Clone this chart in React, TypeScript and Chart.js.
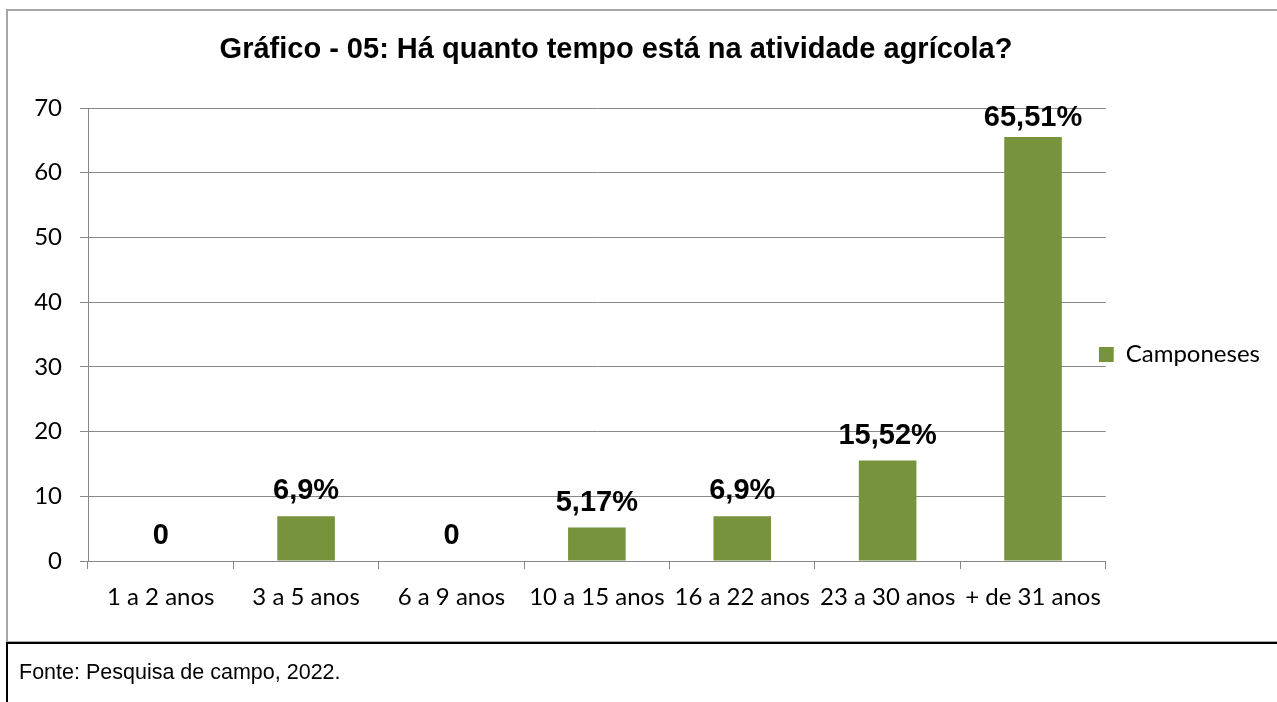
import React, { useEffect, useRef } from "react";
import { Chart, registerables } from "chart.js";

Chart.register(...registerables);

const chartTitle = "Gráfico - 05: Há quanto tempo está na atividade agrícola?";
const categories = [
  "1 a 2 anos",
  "3 a 5 anos",
  "6 a 9 anos",
  "10 a 15 anos",
  "16 a 22 anos",
  "23 a 30 anos",
  "+ de 31 anos",
];
const seriesName = "Camponeses";
const seriesValues = [0, 6.9, 0, 5.17, 6.9, 15.52, 65.51];
const valueLabels = ["0", "6,9%", "0", "5,17%", "6,9%", "15,52%", "65,51%"];
const yTicksMin = 0;
const yTicksMax = 70;
const yTicksStep = 10;
const sourceNote = "Fonte: Pesquisa de campo, 2022.";

const BAR_COLOR = "#77933C";
const GRID_COLOR = "#888888";
const CAL_FONT = "Lato, 'Open Sans', sans-serif";
const ARIAL = "'Liberation Sans', Arial, sans-serif";

const CANVAS_W = 1269;
const CANVAS_H = 687;

const valueLabelPlugin = {
  id: "valueLabels",
  afterDatasetsDraw(chart: any) {
    const { ctx, chartArea } = chart;
    const meta = chart.getDatasetMeta(0);
    ctx.save();
    ctx.font = `bold 29px ${ARIAL}`;
    ctx.fillStyle = "#000";
    ctx.textAlign = "center";
    ctx.textBaseline = "alphabetic";
    meta.data.forEach((bar: any, i: number) => {
      let y = bar.y - 17;
      const capH = 21;
      if (y - capH < chartArea.top - 3) y = chartArea.top - 3 + capH;
      ctx.fillText(valueLabels[i], bar.x, y);
    });
    ctx.restore();
  },
};

const layoutTweakPlugin = {
  id: "layoutTweak",
  afterLayout(chart: any) {
    const t = chart.titleBlock;
    if (t) {
      t.right = t.left + 1216;
      t.width = t.right - t.left;
    }
    const lg = chart.legend;
    if (lg) {
      lg.left -= 7;
      lg.right -= 7;
    }
  },
};

export default function App() {
  const ref = useRef<HTMLCanvasElement | null>(null);

  useEffect(() => {
    if (!ref.current) return;
    const mctx = document.createElement("canvas").getContext("2d")!;
    mctx.font = `24px ${CAL_FONT}`;
    const legendTextW = mctx.measureText(seriesName).width;
    const legendPad = 0;
    const legendW = 15 + 12 + legendTextW + legendPad + 10;
    const padRight = Math.max(0, CANVAS_W - 1100 - legendW);

    const chart = new Chart(ref.current, {
      type: "bar",
      data: {
        labels: categories,
        datasets: [
          {
            label: seriesName,
            data: seriesValues,
            backgroundColor: BAR_COLOR,
            borderWidth: 0,
            categoryPercentage: 1,
            barPercentage: 0.396,
          },
        ],
      },
      options: {
        responsive: false,
        animation: false,
        events: [],
        layout: { padding: { left: 0, top: 0, bottom: 0, right: padRight } },
        plugins: {
          title: {
            display: true,
            text: chartTitle,
            color: "#000",
            font: { family: ARIAL, size: 29, weight: "bold", lineHeight: 1.2 },
            padding: { top: 21.8, bottom: 40.4 },
          },
          legend: {
            display: true,
            position: "right",
            align: "center",
            labels: {
              boxWidth: 15,
              boxHeight: 15,
              padding: legendPad,
              color: "#000",
              font: { family: CAL_FONT, size: 24 },
            },
          },
          tooltip: { enabled: false },
        },
        scales: {
          x: {
            grid: {
              display: true,
              drawOnChartArea: false,
              drawTicks: true,
              tickLength: 8,
              color: GRID_COLOR,
              offset: true,
            },
            border: { display: true, color: GRID_COLOR, width: 1 },
            ticks: {
              color: "#000",
              font: { family: CAL_FONT, size: 24 },
              padding: 14,
              maxRotation: 0,
              autoSkip: false,
            },
            afterFit: (s: any) => {
              s.height = 137;
            },
          },
          y: {
            min: yTicksMin,
            max: yTicksMax,
            ticks: {
              stepSize: yTicksStep,
              color: "#000",
              font: { family: CAL_FONT, size: 24 },
              padding: 18,
            },
            grid: { color: GRID_COLOR, tickLength: 8, lineWidth: 1 },
            border: { display: true, color: GRID_COLOR, width: 1 },
            afterFit: (s: any) => {
              s.width = 80;
            },
          },
        },
      },
      plugins: [valueLabelPlugin, layoutTweakPlugin],
    });
    return () => chart.destroy();
  }, []);

  return (
    <div
      style={{
        position: "absolute",
        left: 0,
        top: 0,
        width: 1277,
        height: 702,
        overflow: "hidden",
        background: "#fff",
      }}
    >
      <div
        style={{
          position: "absolute",
          left: 6,
          top: 9,
          width: 1300,
          height: 633,
          boxSizing: "border-box",
          borderTop: "2px solid #a6a6a6",
          borderLeft: "2px solid #a6a6a6",
          borderBottom: "1px solid #a6a6a6",
        }}
      />
      <div style={{ position: "absolute", left: 8, top: 11, width: CANVAS_W, height: CANVAS_H }}>
        <canvas
          ref={ref}
          width={CANVAS_W}
          height={CANVAS_H}
          style={{ display: "block", width: CANVAS_W, height: CANVAS_H }}
        />
      </div>
      <div
        style={{
          position: "absolute",
          left: 6,
          top: 642,
          width: 1300,
          height: 80,
          boxSizing: "border-box",
          borderTop: "2px solid #000",
          borderLeft: "2px solid #000",
        }}
      >
        <div
          style={{
            position: "absolute",
            left: 11,
            top: 15,
            fontFamily: ARIAL,
            fontSize: 21.5,
            lineHeight: "26px",
            color: "#000",
            whiteSpace: "pre",
          }}
        >
          {sourceNote}
        </div>
      </div>
    </div>
  );
}
